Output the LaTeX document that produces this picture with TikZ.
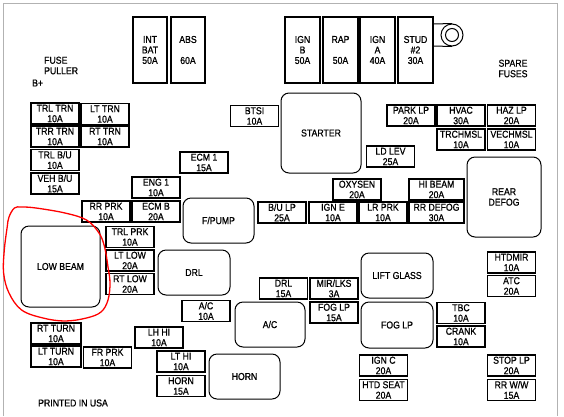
\documentclass[tikz,border=0pt]{standalone}
\usepackage{fontspec}
\setmainfont{Liberation Sans}[FakeStretch=0.87, FakeBold=0.8]
\newcommand{\boxfont}{\fontsize{10}{10.5}\selectfont}
\tikzset{
  fuse/.style={draw, line width=1.3pt, minimum width=48pt, minimum height=21pt,
    inner sep=0pt, align=center, font=\boxfont},
  maxi/.style={fuse, minimum width=34pt, minimum height=66pt},
  relay/.style={draw, line width=1pt, rounded corners=8pt, inner sep=0pt,
    align=center, font=\boxfont},
  caption/.style={inner sep=0pt, align=left, font=\boxfont},
}

\begin{document}
\begin{tikzpicture}[x=1pt,y=-1pt]
\useasboundingbox (0,0) rectangle (564,416);
% scan frame
\draw[black!30, line width=1pt] (3,416) -- (3,3) -- (557,3) -- (557,416);

% maxi fuses
\node[maxi] (intbat) at (150,50) {INT\\BAT\\50A};
\node[maxi] (abs) at (188,50) {ABS\\~\\60A};
\node[maxi, minimum width=35pt] (ignb) at (302.5,50) {IGN\\B\\50A};
\node[maxi, minimum width=35pt] (rap) at (340.5,50) {RAP\\~\\50A};
\node[maxi, minimum width=35pt] (igna) at (377.5,50) {IGN\\A\\40A};
\node[maxi, minimum width=35pt] (stud) at (415.5,50) {STUD\\\#2\\30A};
\node[circle, draw, line width=1pt, minimum size=22pt, inner sep=0pt] (ring) at (452,35) {};
\node[circle, draw, line width=1pt, minimum size=13pt, inner sep=0pt] (hole) at (452,35) {};
\draw[line width=1pt] (stud.east |- 0,24) -- (ring.north);
\draw[line width=1pt] (stud.east |- 0,46) -- (ring.south);

% labels
\node[caption, anchor=west] (puller) at (44,65.5) {FUSE\\PULLER};
\node[caption, anchor=west] (bplus) at (32,83) {B+};
\node[caption, align=center] (spare) at (513,68.5) {SPARE\\FUSES};
\node[caption, anchor=west] (printed) at (38,403) {PRINTED IN USA};

% left column
\node[fuse] (trltrn) at (55,113.5) {TRL TRN\\10A};
\node[fuse] (lttrn) at (105,114) {LT TRN\\10A};
\node[fuse] (trrtrn) at (55,136.5) {TRR TRN\\10A};
\node[fuse] (rttrn) at (105,136.5) {RT TRN\\10A};
\node[fuse] (trlbu) at (55,160) {TRL B/U\\10A};
\node[fuse] (vehbu) at (55,183.5) {VEH B/U\\15A};
\node[fuse] (btsi) at (254.5,116) {BTSI\\10A};
\node[fuse] (ecm1) at (204,162.5) {ECM 1\\15A};
\node[fuse] (eng1) at (156,187.5) {ENG 1\\10A};
\node[fuse] (rrprk) at (106,211.5) {RR PRK\\10A};
\node[fuse] (ecmb) at (156,211.5) {ECM B\\20A};
\node[fuse] (trlprk) at (130,237) {TRL PRK\\10A};
\node[fuse] (ltlow) at (130,260.5) {LT LOW\\20A};
\node[fuse] (rtlow) at (130,284) {RT LOW\\20A};
\node[fuse, minimum width=50pt] (rtturn) at (56,333.5) {RT TURN\\10A};
\node[fuse, minimum width=50pt] (ltturn) at (56,356.5) {LT TURN\\10A};
\node[fuse] (frprk) at (107.5,357.5) {FR PRK\\10A};
\node[fuse] (acfuse) at (206,311) {A/C\\10A};
\node[fuse] (lhhi) at (159,337.5) {LH HI\\10A};
\node[fuse] (lthi) at (181,361.5) {LT HI\\10A};
\node[fuse] (hornfuse) at (181,386) {HORN\\15A};

% right side
\node[fuse] (parklp) at (411,115.5) {PARK LP\\20A};
\node[fuse] (hvac) at (461,115.5) {HVAC\\30A};
\node[fuse] (hazlp) at (511.5,115.5) {HAZ LP\\20A};
\node[fuse] (trchmsl) at (461,139.5) {TRCHMSL\\10A};
\node[fuse] (vechmsl) at (511.5,139.5) {VECHMSL\\10A};
\node[fuse] (ldlev) at (390.5,156.5) {LD LEV\\25A};
\node[fuse] (oxysen) at (357,189.5) {OXYSEN\\20A};
\node[fuse, minimum width=55pt] (hibeam) at (436.5,189.5) {HI BEAM\\20A};
\node[fuse] (bulp) at (282,212.5) {B/U LP\\25A};
\node[fuse] (igne) at (333,212.5) {IGN E\\10A};
\node[fuse] (lrprk) at (383,212.5) {LR PRK\\10A};
\node[fuse, minimum width=55pt] (rrdefog) at (436.5,212.5) {RR DEFOG\\30A};
\node[fuse] (drlfuse) at (283.5,288.5) {DRL\\15A};
\node[fuse] (mirlks) at (334,288.5) {MIR/LKS\\3A};
\node[fuse] (foglpfuse) at (334,312.5) {FOG LP\\15A};
\node[fuse] (tbc) at (461,313) {TBC\\10A};
\node[fuse] (crank) at (461,336.5) {CRANK\\10A};
\node[fuse] (ignc) at (383.5,365.5) {IGN C\\20A};
\node[fuse] (htdseat) at (383.5,390) {HTD SEAT\\20A};
\node[fuse] (htdmir) at (511.5,262.5) {HTDMIR\\10A};
\node[fuse] (atc) at (511.5,286) {ATC\\20A};
\node[fuse] (stoplp) at (511.5,365.5) {STOP LP\\20A};
\node[fuse] (rrww) at (511.5,390) {RR W/W\\15A};

% relays
\node[relay, minimum width=80pt, minimum height=80pt] (starter) at (321,133) {STARTER};
\node[relay, minimum width=74pt, minimum height=80pt] (reardefog) at (504,197) {REAR\\DEFOG};
\node[relay, minimum width=71pt, minimum height=45pt] (fpump) at (218.5,220.5) {F/PUMP};
\node[relay, minimum width=79pt, minimum height=81pt] (lowbeam) at (60.5,266.5) {LOW BEAM};
\node[relay, minimum width=72pt, minimum height=45pt] (drlrelay) at (194,272.5) {DRL};
\node[relay, minimum width=70pt, minimum height=45pt] (acrelay) at (270,324.5) {A/C};
\node[relay, minimum width=71pt, minimum height=45pt] (hornrelay) at (244.5,376.5) {HORN};
\node[relay, minimum width=72pt, minimum height=45pt] (liftglass) at (397,275.5) {LIFT GLASS};
\node[relay, minimum width=72pt, minimum height=46pt] (foglprelay) at (397,325) {FOG LP};

% red marker round LOW BEAM
\draw[red, line width=1.3pt] plot[smooth cycle, tension=0.6] coordinates {
  (14.4,208) (21.6,207) (36,208) (65,213) (86.5,220) (99,233) (104.6,247)
  (108,267) (110,283) (108,300) (101,312) (86.5,318) (65,321) (43,318)
  (21.6,310) (9,293) (3.6,273) (4.3,250) (7.2,227) (9,217)};
\end{tikzpicture}
\end{document}
